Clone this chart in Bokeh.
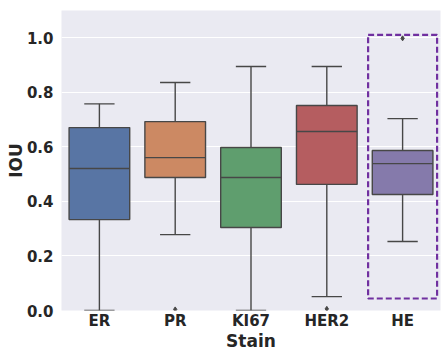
from bokeh.plotting import figure
from bokeh.models import FixedTicker, Range1d, ColumnDataSource
from bokeh.embed import file_html
from bokeh.resources import INLINE

categories = ["ER", "PR", "KI67", "HER2", "HE"]
q1 = [0.333, 0.487, 0.304, 0.462, 0.425]
median = [0.520, 0.560, 0.487, 0.656, 0.538]
q3 = [0.670, 0.692, 0.597, 0.751, 0.586]
lower = [0.0, 0.278, 0.0, 0.051, 0.253]
upper = [0.757, 0.835, 0.894, 0.894, 0.703]
colors = ["#5875A4", "#CC8963", "#5F9E6E", "#B55D60", "#857AAB"]
outlier_cat = ["PR", "HER2", "HE"]
outlier_val = [0.004, 0.006, 0.997]
y_ticks = [0.0, 0.2, 0.4, 0.6, 0.8, 1.0]
highlight_cat = "HE"
highlight_top = 1.01
highlight_bottom = 0.044

xs = list(range(len(categories)))
src = ColumnDataSource(dict(x=xs, q1=q1, med=median, q3=q3, lo=lower, hi=upper, color=colors))

p = figure(width=444, height=353, output_backend="svg", toolbar_location=None,
           x_range=Range1d(-0.5, len(categories) - 0.5), y_range=Range1d(0, 1.099),
           min_border_left=61, min_border_right=4, min_border_top=10, min_border_bottom=43)
p.background_fill_color = "#EAEAF2"
p.border_fill_color = "white"
p.outline_line_color = None

line_col = "#474747"
# whiskers
p.segment(x0="x", y0="q3", x1="x", y1="hi", source=src, line_color=line_col, line_width=1.4)
p.segment(x0="x", y0="lo", x1="x", y1="q1", source=src, line_color=line_col, line_width=1.4)
# caps
p.vbar(x="x", bottom="hi", top="hi", width=0.4, source=src, fill_alpha=0, line_color=line_col, line_width=1.4)
p.vbar(x="x", bottom="lo", top="lo", width=0.4, source=src, fill_alpha=0, line_color=line_col, line_width=1.4)
# boxes
p.vbar(x="x", bottom="q1", top="q3", width=0.8, source=src, fill_color="color", line_color=line_col, line_width=1.4)
p.vbar(x="x", bottom="med", top="med", width=0.8, source=src, fill_alpha=0, line_color=line_col, line_width=1.4)
# outliers
ox = [categories.index(c) for c in outlier_cat]
p.scatter(ox, outlier_val, marker="diamond", size=5, fill_color=line_col, line_color=line_col)

# highlight rectangle
hx = categories.index(highlight_cat)
p.rect(x=[hx], y=[(highlight_top + highlight_bottom) / 2], width=0.91,
       height=[highlight_top - highlight_bottom], fill_alpha=0,
       line_color="#7030A0", line_width=2.2, line_dash="6 3")

p.xgrid.visible = False
p.ygrid.grid_line_color = "white"
p.ygrid.grid_line_width = 1
p.yaxis.ticker = FixedTicker(ticks=y_ticks)
p.xaxis.ticker = FixedTicker(ticks=xs)
p.xaxis.major_label_overrides = {i: c for i, c in enumerate(categories)}
p.yaxis.major_label_overrides = {t: f"{t:.1f}" for t in y_ticks}

for ax in (p.xaxis, p.yaxis):
    ax.axis_line_color = None
    ax.major_tick_line_color = None
    ax.minor_tick_line_color = None
    ax.major_tick_out = 0
    ax.major_tick_in = 0
    ax.minor_tick_out = 0
    ax.minor_tick_in = 0
    ax.major_label_text_font = "DejaVu Sans"
    ax.major_label_text_font_style = "bold"
    ax.major_label_text_font_size = "15px"
    ax.major_label_text_color = "#262626"
    ax.axis_label_text_font = "DejaVu Sans"
    ax.axis_label_text_font_style = "bold"
    ax.axis_label_text_font_size = "17px"
    ax.axis_label_text_color = "#262626"

p.xaxis.major_label_standoff = 1
p.yaxis.major_label_standoff = 8
p.xaxis.axis_label = "Stain"
p.yaxis.axis_label = "IOU"
p.xaxis.axis_label_standoff = -2
p.yaxis.axis_label_standoff = -2

open("out.html", "w").write(file_html(p, INLINE))
